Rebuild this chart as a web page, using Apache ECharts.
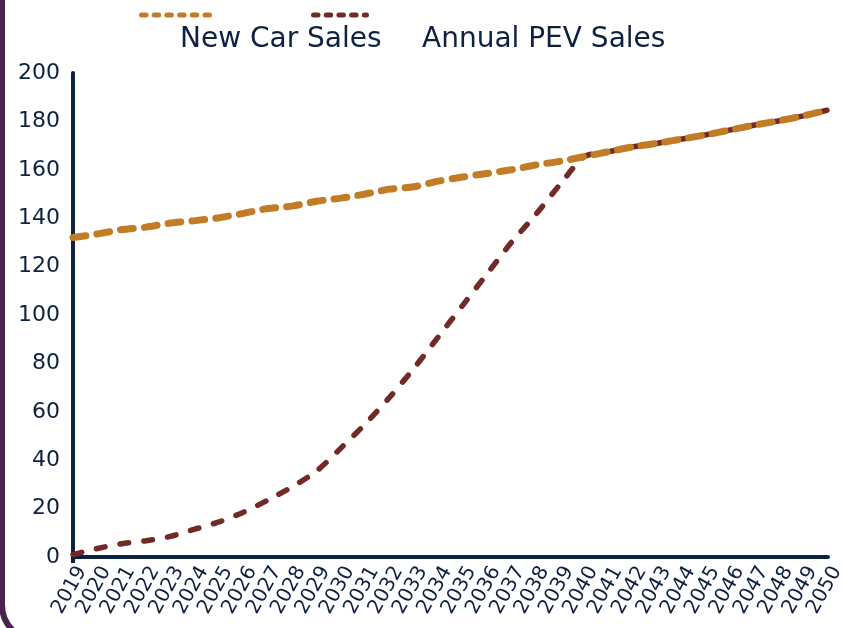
<!doctype html>
<html lang="en">

<head>
    <meta charset="UTF-8">
    <title>New Car Sales vs Annual PEV Sales</title>
    <style>
        html, body { margin: 0; padding: 0; background: #fff; }
    </style>
</head>

<body>
    <div id="main" style="width: 842px;height:628px;"></div>
    <script src="https://cdn.jsdelivr.net/npm/echarts@6/dist/echarts.min.js"></script>
    <script>
        // data
        var years = ['2019', '2020', '2021', '2022', '2023', '2024', '2025', '2026', '2027', '2028',
            '2029', '2030', '2031', '2032', '2033', '2034', '2035', '2036', '2037', '2038',
            '2039', '2040', '2041', '2042', '2043', '2044', '2045', '2046', '2047', '2048',
            '2049', '2050'];
        var newCarSales = [132, 133.5, 135.3, 136.3, 138, 139, 140.2, 142, 144, 145,
            147, 148.3, 150, 152, 153, 155.3, 157, 158.5, 160, 162,
            163.5, 165.5, 167.5, 169.5, 171, 172.7, 174.5, 176.5, 178.5, 180.3,
            182.3, 184.7];
        var pevSales = [1, 3.5, 5.5, 6.7, 8.5, 11.5, 14.5, 18.5, 23.5, 29,
            35.5, 45, 55, 66, 78, 91, 104, 117, 130, 141.5,
            154, 165.5, 167.5, 169.5, 171, 172.7, 174.5, 176.5, 178.5, 180.3,
            182.3, 184.7];
        var yTicks = [0, 20, 40, 60, 80, 100, 120, 140, 160, 180, 200];

        var navy = '#0d2140';
        var orange = '#c27c25';
        var brown = '#712a25';
        var font = 'DejaVu Sans';

        var myChart = echarts.init(document.getElementById('main'));

        // legend icons sit above the names, so icons and names are separate legends
        function iconLegend(name, left, width) {
            return {
                data: [name],
                left: left,
                top: 5,
                itemWidth: width,
                itemHeight: 10,
                formatter: function () { return ''; },
                textStyle: { fontSize: 1 },
                itemStyle: { opacity: 0 },
                lineStyle: { width: 5, type: [4.5, 8.2], cap: 'round' }
            };
        }
        function textLegend(name, left) {
            return {
                data: [name],
                left: left,
                top: 21,
                icon: 'none',
                itemWidth: 0,
                itemHeight: 0,
                textStyle: { color: navy, fontSize: 28, fontFamily: font }
            };
        }

        var option = {
            animation: false,
            graphic: [{
                type: 'rect',
                shape: { x: 2, y: -50, width: 1000, height: 690, r: 35 },
                style: { fill: 'none', stroke: '#4a2150', lineWidth: 6 },
                silent: true
            }],
            legend: [
                iconLegend('New Car Sales', 134, 70),
                iconLegend('Annual PEV Sales', 306, 53),
                textLegend('New Car Sales', 170),
                textLegend('Annual PEV Sales', 412)
            ],
            grid: {
                left: 73,
                right: 14,
                top: 73,
                bottom: 71,
                outerBoundsMode: 'none'
            },
            xAxis: {
                type: 'category',
                data: years,
                boundaryGap: false,
                axisLine: { lineStyle: { color: navy, width: 4 } },
                axisTick: {
                    show: true,
                    length: 6,
                    interval: function (index) { return index === 0; },
                    lineStyle: { color: navy, width: 4 }
                },
                axisLabel: {
                    interval: 0,
                    rotate: 61,
                    margin: 6,
                    verticalAlign: 'top',
                    color: navy,
                    fontSize: 20,
                    fontFamily: font
                }
            },
            yAxis: {
                type: 'value',
                min: yTicks[0],
                max: yTicks[yTicks.length - 1],
                interval: yTicks[1] - yTicks[0],
                splitLine: { show: false },
                axisLine: { show: true, lineStyle: { color: navy, width: 4 } },
                axisTick: { show: false },
                axisLabel: {
                    margin: 13,
                    padding: [7, 0, 0, 0],
                    color: navy,
                    fontSize: 22,
                    fontFamily: font
                }
            },
            series: [{
                name: 'New Car Sales',
                type: 'line',
                data: newCarSales,
                z: 3,
                smooth: 0.25,
                symbol: 'none',
                color: orange,
                lineStyle: { color: orange, width: 7, type: [13, 11], cap: 'round' }
            }, {
                name: 'Annual PEV Sales',
                type: 'line',
                data: pevSales,
                z: 2,
                smooth: 0.25,
                symbol: 'none',
                color: brown,
                lineStyle: { color: brown, width: 5.5, type: [9, 15], cap: 'round' }
            }]
        };

        myChart.setOption(option);
    </script>
</body>

</html>
